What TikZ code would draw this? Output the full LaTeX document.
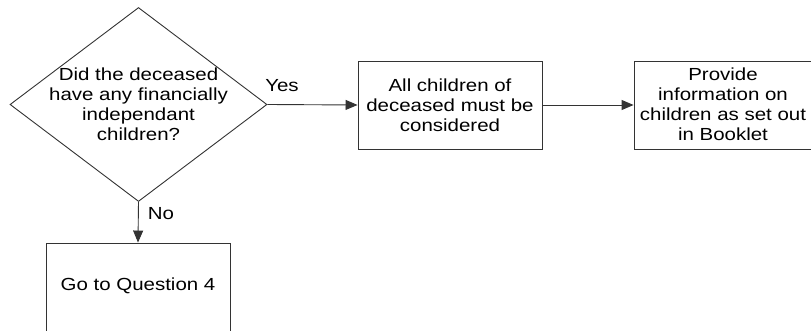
\documentclass[tikz,border=0pt]{standalone}
\usepackage{fontspec}
\setmainfont{Liberation Sans}[FakeStretch=1.17]
\usetikzlibrary{shapes.geometric,arrows.meta}
\begin{document}
\begin{tikzpicture}[x=1pt,y=-1pt,
  linecol/.style={draw=black!80, line width=0.9pt},
  txt/.style={font=\fontsize{17.5}{20}\selectfont, align=center, inner sep=0pt, text=black},
  boxnode/.style={linecol, rectangle, inner sep=0pt},
  conn/.style={linecol, -{Triangle[length=12pt,width=10pt]}},
  lbl/.style={font=\fontsize{17.5}{20}\selectfont, inner sep=0pt}]
\useasboundingbox (0,0) rectangle (811,331);
\node[linecol, diamond, minimum width=257pt, minimum height=194pt, inner sep=0pt] (q) at (138.5,104.5) {};
\node[txt] (qt) at (138.5,104) {Did the deceased\\have any financially\\independant\\children?};
\node[boxnode, minimum width=184pt, minimum height=88pt] (a) at (450,105) {};
\node[txt] (at) at (450,105) {All children of\\deceased must be\\considered};
\node[boxnode, minimum width=180pt, minimum height=88pt] (b) at (724,105) {};
\node[txt] (bt) at (723,104) {Provide\\information on\\children as set out\\in Booklet};
\node[boxnode, minimum width=184pt, minimum height=94pt] (c) at (138,290) {};
\node[txt] (ct) at (138,286) {Go to Question 4};
\draw[conn] (q.east) -- (a.west);
\draw[conn] (a.east) -- (b.west);
\draw[conn] (q.south) -- (c.north);
\node[lbl] (yes) at (282,86) {Yes};
\node[lbl] (no) at (161,214) {No};
\end{tikzpicture}
\end{document}
